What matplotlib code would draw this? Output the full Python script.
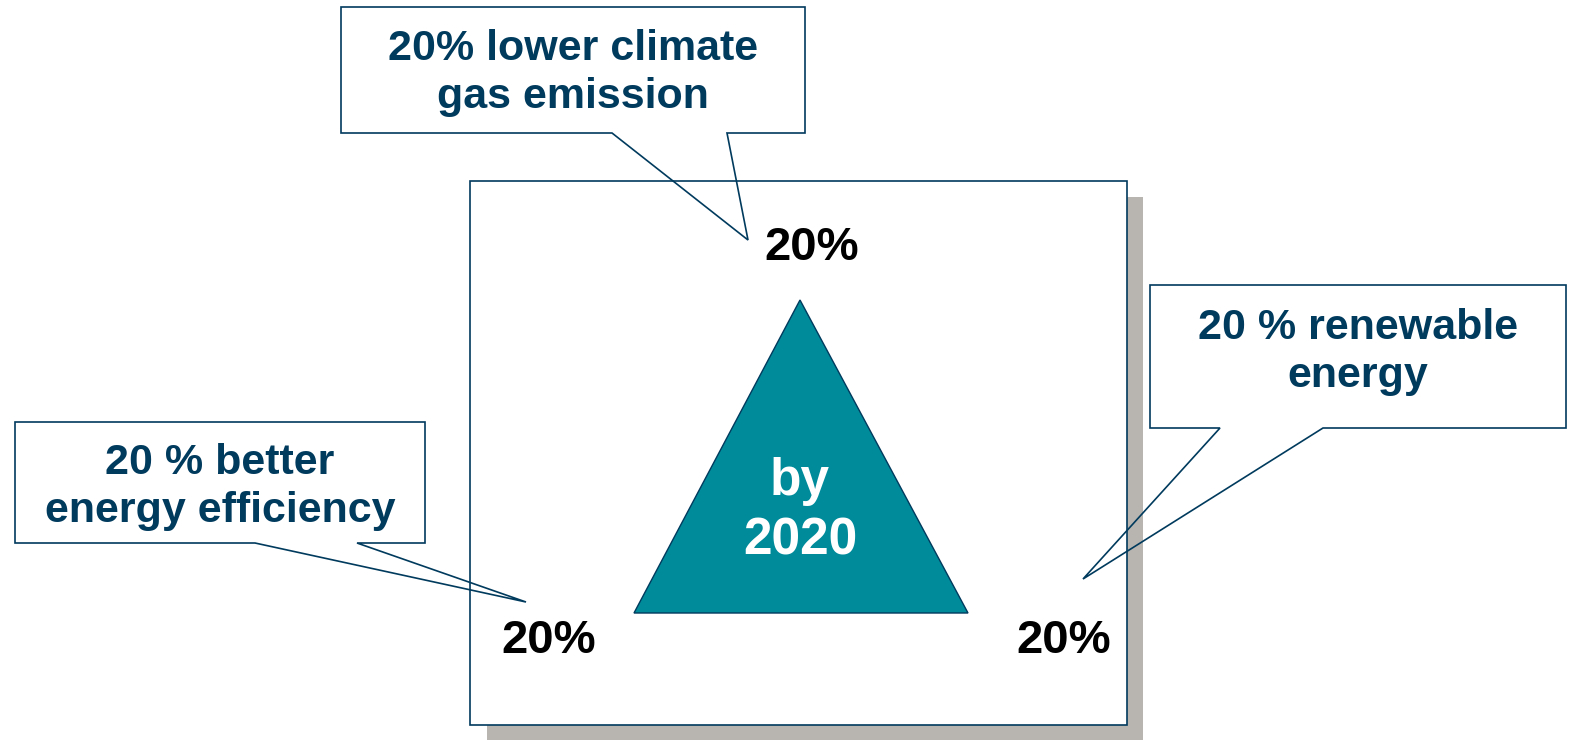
import matplotlib.pyplot as plt
from matplotlib.patches import Polygon, Rectangle

# texts
callout_texts = ['20% lower climate\ngas emission',
                 '20 % renewable\nenergy',
                 '20 % better\nenergy efficiency']
corner_labels = ['20%', '20%', '20%']
centre_text = 'by\n2020'

navy = '#003a5d'
teal = '#008b9b'
shadow = '#b8b5b0'

plt.rcParams['font.family'] = ['Liberation Sans', 'DejaVu Sans']

fig = plt.figure(figsize=(15.69, 7.40), dpi=100)
ax = fig.add_axes([0, 0, 1, 1])
ax.set_xlim(0, 1569)
ax.set_ylim(740, 0)
ax.axis('off')

# main box with shadow
ax.add_patch(Rectangle((487, 197), 656, 560, facecolor=shadow, edgecolor='none', zorder=1))
ax.add_patch(Rectangle((470, 181), 657, 544, facecolor='white', edgecolor=navy, linewidth=1.2, zorder=2))

# triangle
ax.add_patch(Polygon([(800, 300), (634, 613), (968, 613)], closed=True,
                     facecolor=teal, edgecolor=navy, linewidth=1.0, zorder=3))
ax.text(800, 511, centre_text, color='white', fontsize=37, fontweight='bold',
        ha='center', va='center', linespacing=1.27, zorder=4)

# callouts: box outline with tail
callouts = [
    [(341, 7), (805, 7), (805, 133), (727, 133), (748, 240), (612, 133), (341, 133)],
    [(1150, 285), (1566, 285), (1566, 428), (1323, 428), (1083, 579), (1220, 428), (1150, 428)],
    [(15, 422), (425, 422), (425, 543), (357, 543), (526, 602), (255, 543), (15, 543)],
]
text_pos = [(573, 73), (1358, 352), (220, 487)]
for pts, (tx, ty), txt in zip(callouts, text_pos, callout_texts):
    ax.add_patch(Polygon(pts, closed=True, facecolor='none', edgecolor=navy,
                         linewidth=1.2, zorder=5))
    ax.text(tx, ty, txt, color=navy, fontsize=31, fontweight='bold',
            ha='center', va='center', linespacing=1.28, zorder=6)

# corner labels
corner_pos = [(812, 248), (549, 641), (1064, 641)]
for (x, y), lab in zip(corner_pos, corner_labels):
    ax.text(x, y, lab, color='black', fontsize=34, fontweight='bold',
            ha='center', va='center', zorder=6)

fig.savefig('out.png', dpi=100, facecolor='white')
